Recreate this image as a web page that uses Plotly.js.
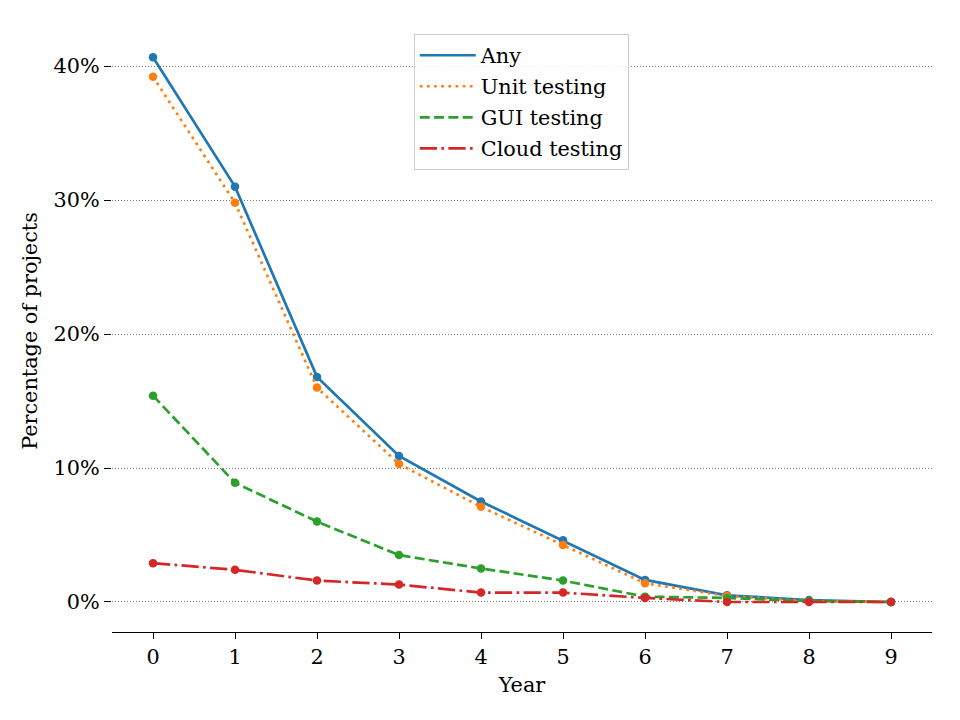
<!DOCTYPE html>
<html>
<head>
<meta charset="utf-8">
<script src="https://cdn.plot.ly/plotly-3.0.1.min.js"></script>
<style>html,body{margin:0;padding:0;background:#fff;}#chart{width:960px;height:720px;}</style>
</head>
<body>
<div id="chart"></div>
<script>
// Share of projects adopting each kind of testing, by project age (years)
const years = [0, 1, 2, 3, 4, 5, 6, 7, 8, 9];
const anyTesting   = [40.65, 31.0, 16.8, 10.9, 7.5, 4.6, 1.65, 0.5, 0.15, 0.0];
const unitTesting  = [39.2, 29.8, 16.0, 10.3, 7.1, 4.25, 1.4, 0.45, 0.07, 0.0];
const guiTesting   = [15.4, 8.9, 6.0, 3.5, 2.5, 1.6, 0.4, 0.3, 0.07, 0.0];
const cloudTesting = [2.9, 2.4, 1.6, 1.3, 0.7, 0.7, 0.3, 0.0, 0.0, 0.0];
const seriesNames  = ["Any", "Unit testing", "GUI testing", "Cloud testing"];
const yTicks = [0, 10, 20, 30, 40];

const seriesValues = [anyTesting, unitTesting, guiTesting, cloudTesting];
const colors = ["#1f77b4", "#ff7f0e", "#2ca02c", "#d62728"];
const lw = 2.7;
const dashes = [
  "solid",
  (1 * lw) + "px," + (1.65 * lw) + "px",
  (3.7 * lw) + "px," + (1.6 * lw) + "px",
  (6.4 * lw) + "px," + (1.6 * lw) + "px," + (1 * lw) + "px," + (1.6 * lw) + "px"
];

const font = "DejaVu Serif, serif";
const fs = 20.8;
const traces = [];
seriesValues.forEach((vals, i) => {
  traces.push({
    x: years, y: vals, name: seriesNames[i], type: "scatter", mode: "lines",
    line: {color: colors[i], width: lw, dash: dashes[i]},
    legendgroup: "g" + i, hoverinfo: "skip"
  });
  traces.push({
    x: years, y: vals, name: seriesNames[i], type: "scatter", mode: "markers",
    marker: {color: colors[i], size: 8.5},
    showlegend: false, legendgroup: "g" + i
  });
});

const layout = {
  width: 960, height: 720,
  margin: {l: 112, r: 28, t: 30, b: 88},
  paper_bgcolor: "#fff", plot_bgcolor: "#fff",
  font: {family: font, size: fs, color: "#000"},
  showlegend: true,
  legend: {
    x: 0.368, y: 0.993, xanchor: "left", yanchor: "top",
    bgcolor: "rgba(255,255,255,0.8)", bordercolor: "#cccccc", borderwidth: 1,
    font: {family: font, size: fs, color: "#000"},
    traceorder: "grouped", tracegroupgap: 1, itemwidth: 56
  },
  xaxis: {
    range: [-0.5, 9.5], tickvals: years, ticktext: years.map(String),
    showline: true, linecolor: "#000", linewidth: 1,
    ticks: "outside", ticklen: 6, tickwidth: 1, tickcolor: "#000",
    showgrid: false, zeroline: false,
    title: {text: "Year", font: {family: font, size: fs}, standoff: 9},
    automargin: false
  },
  yaxis: {
    range: [-2.24, 42.69], tickvals: yTicks, ticktext: yTicks.map(v => v + "%"),
    showline: false, zeroline: false,
    ticks: "outside", ticklen: 7, tickwidth: 1, tickcolor: "#000",
    showgrid: true, gridcolor: "#808080", gridwidth: 1, griddash: "1px,2px",
    title: {text: "Percentage of projects", font: {family: font, size: fs}, standoff: 10},
    automargin: false
  }
};

Plotly.newPlot("chart", traces, layout, {displayModeBar: false, staticPlot: true});
</script>
</body>
</html>
